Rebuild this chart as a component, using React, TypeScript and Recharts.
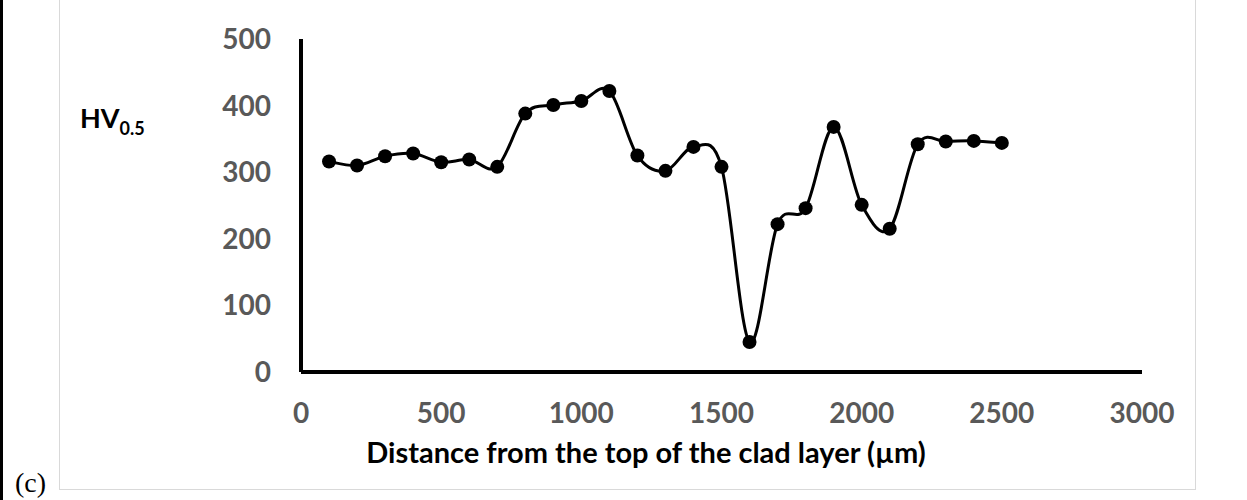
import React from 'react';
import { LineChart, Line, XAxis, YAxis } from 'recharts';

// distance from the top of the clad layer (µm) and hardness HV0.5
const distances = [100, 200, 300, 400, 500, 600, 700, 800, 900, 1000, 1100, 1200, 1300, 1400, 1500, 1600, 1700, 1800, 1900, 2000, 2100, 2200, 2300, 2400, 2500];
const hardness = [316, 310, 324, 328, 315, 319, 308, 388, 401, 407, 422, 325, 302, 338, 308, 45, 222, 246, 368, 251, 215, 342, 346, 347, 344];
const xTicks = [0, 500, 1000, 1500, 2000, 2500, 3000];
const yTicks = [0, 100, 200, 300, 400, 500];

const data = distances.map((d, i) => ({ d, hv: hardness[i] }));

// Excel style smoothed line (Catmull-Rom as cubic beziers)
const excelSmooth = (context: any) => {
  let pts: number[][] = [];
  return {
    areaStart() {},
    areaEnd() {},
    lineStart() {
      pts = [];
    },
    point(x: number, y: number) {
      pts.push([+x, +y]);
    },
    lineEnd() {
      if (!pts.length) return;
      context.moveTo(pts[0][0], pts[0][1]);
      for (let i = 0; i < pts.length - 1; i++) {
        const p0 = pts[i - 1] || pts[i];
        const p1 = pts[i];
        const p2 = pts[i + 1];
        const p3 = pts[i + 2] || p2;
        context.bezierCurveTo(
          p1[0] + (p2[0] - p0[0]) / 6,
          p1[1] + (p2[1] - p0[1]) / 6,
          p2[0] - (p3[0] - p1[0]) / 6,
          p2[1] - (p3[1] - p1[1]) / 6,
          p2[0],
          p2[1]
        );
      }
    },
  };
};

const tickStyle = { fill: '#595959', fontSize: 28, fontWeight: 700, fontFamily: 'Lato, sans-serif' };

export default function App() {
  return (
    <div style={{ position: 'absolute', left: 0, top: 0, width: 1247, height: 500, background: '#fff', overflow: 'hidden' }}>
      <div style={{ position: 'absolute', left: 0, top: 0, width: 3, height: 500, background: '#000' }} />
      <div style={{ position: 'absolute', left: 59, top: -10, width: 1135, height: 498, border: '1.5px solid #d9d9d9' }} />
      <div style={{ position: 'absolute', left: 15, top: 467, fontFamily: '"Liberation Serif", serif', fontSize: 28, lineHeight: 'normal', color: '#000' }}>(c)</div>
      <div style={{ position: 'absolute', left: 80, top: 101, fontFamily: 'Lato, sans-serif', fontWeight: 700, fontSize: 27, color: '#000', whiteSpace: 'nowrap' }}>
        HV<span style={{ fontSize: 18, position: 'relative', top: 7 }}>0.5</span>
      </div>
      <div style={{ position: 'absolute', left: 246, top: 434, width: 800, textAlign: 'center', fontFamily: 'Lato, sans-serif', fontWeight: 700, fontSize: 29, color: '#000', whiteSpace: 'nowrap' }}>
        Distance from the top of the clad layer (µm)
      </div>
      <LineChart width={1247} height={500} data={data} margin={{ top: 39, right: 105, bottom: 98, left: 241 }} style={{ position: 'absolute', left: 0, top: 0 }}>
        <XAxis
          dataKey="d"
          type="number"
          domain={[0, 3000]}
          ticks={xTicks}
          height={30}
          tickLine={false}
          tickSize={0}
          tickMargin={31}
          axisLine={{ stroke: '#000', strokeWidth: 4 }}
          tick={tickStyle}
        />
        <YAxis
          type="number"
          domain={[0, 500]}
          ticks={yTicks}
          width={60}
          tickLine={false}
          tickSize={0}
          tickMargin={30}
          axisLine={{ stroke: '#000', strokeWidth: 4 }}
          tick={tickStyle}
        />
        <Line
          dataKey="hv"
          type={excelSmooth as any}
          stroke="#000"
          strokeWidth={3}
          dot={{ r: 7, fill: '#000', stroke: '#000', strokeWidth: 0 }}
          activeDot={false}
          isAnimationActive={false}
        />
      </LineChart>
    </div>
  );
}
